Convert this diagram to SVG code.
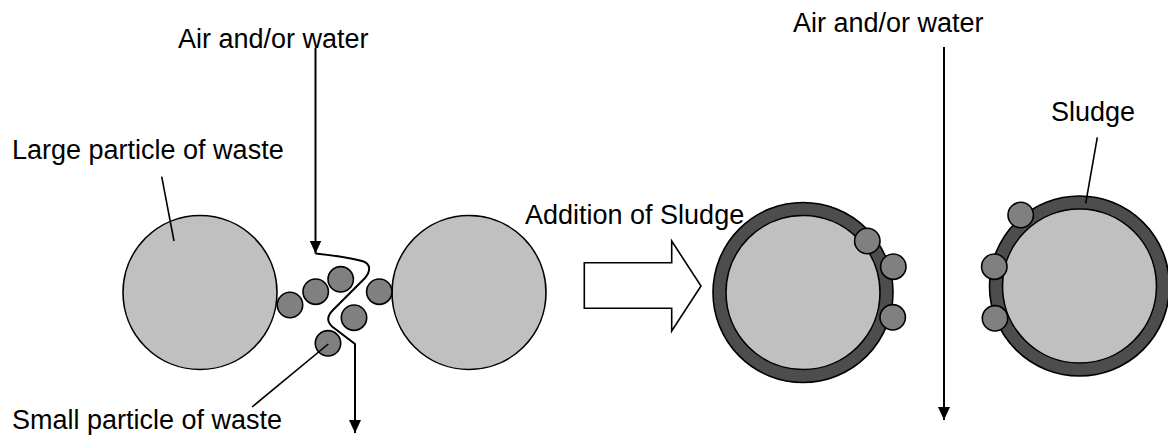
<svg xmlns="http://www.w3.org/2000/svg" width="1168" height="437" viewBox="0 0 1168 437">
<style>
text{font-family:"Liberation Sans",Arial,sans-serif;font-size:27px;fill:#000}
.big{fill:#c0c0c0;stroke:#000;stroke-width:1.6}
.small{fill:#808080;stroke:#000;stroke-width:1.6}
.ring{fill:#4d4d4d;stroke:#000;stroke-width:1.6}
.ln{fill:none;stroke:#000;stroke-width:1.6}
.flow{fill:none;stroke:#000;stroke-width:2}
</style>
<defs>
<marker id="ah" markerWidth="13" markerHeight="12" refX="13" refY="6" orient="auto" markerUnits="userSpaceOnUse" viewBox="0 0 13 12">
<path d="M0,0 L13,6 L0,12 Z" fill="#000"/>
</marker>
</defs>
<g id="labels">
<text x="178" y="48">Air and/or water</text>
<text x="12" y="159">Large particle of waste</text>
<text x="12" y="429">Small particle of waste</text>
<text x="525" y="224">Addition of Sludge</text>
<text x="793" y="32">Air and/or water</text>
<text x="1051" y="121">Sludge</text>
</g>
<g id="large-left"><circle class="big" cx="200" cy="292.5" r="77"/></g>
<g id="large-right"><circle class="big" cx="469" cy="292.5" r="77"/></g>
<g id="small-particles">
<circle class="small" cx="290" cy="305" r="12.7"/>
<circle class="small" cx="315.7" cy="291.7" r="12.7"/>
<circle class="small" cx="340.7" cy="279.3" r="12.7"/>
<circle class="small" cx="379.3" cy="291.7" r="12.7"/>
<circle class="small" cx="354" cy="317.7" r="12.7"/>
<circle class="small" cx="328" cy="343.3" r="12.7"/>
</g>
<g id="hollow-arrow">
<path class="ln" d="M584.3,262.7 L671.7,262.7 L671.7,241 L701,286 L671.7,331 L671.7,308.3 L584.3,308.3 Z" fill="#fff"/>
</g>
<g id="sludge-particle-1">
<circle class="ring" cx="803" cy="292.5" r="90"/>
<circle class="big" cx="803" cy="292.5" r="77"/>
<circle class="small" cx="867.3" cy="241" r="12.7"/>
<circle class="small" cx="893.3" cy="266.7" r="12.7"/>
<circle class="small" cx="892.7" cy="317.3" r="12.7"/>
</g>
<g id="sludge-particle-2">
<circle class="ring" cx="1079.5" cy="286" r="90"/>
<circle class="big" cx="1079.5" cy="286" r="77"/>
<circle class="small" cx="1020.7" cy="215" r="12.7"/>
<circle class="small" cx="994.3" cy="266.7" r="12.7"/>
<circle class="small" cx="995" cy="318.3" r="12.7"/>
</g>
<g id="connectors">
<line class="flow" x1="315.5" y1="48" x2="315.5" y2="253.5" marker-end="url(#ah)"/>
<path class="flow" d="M315.5,253.5 C330,255 350,258 362,261 C372,264 370,272 365,278 L333,310 C326,317 327,323 334,328 L355,344 L355,433" marker-end="url(#ah)"/>
<line class="flow" x1="944" y1="47" x2="944" y2="420" marker-end="url(#ah)"/>
<line class="ln" x1="161.7" y1="176.7" x2="174" y2="241"/>
<line class="ln" x1="328.3" y1="344" x2="252" y2="407"/>
<line class="ln" x1="1097.3" y1="137.3" x2="1085.7" y2="203.3"/>
</g>
</svg>
